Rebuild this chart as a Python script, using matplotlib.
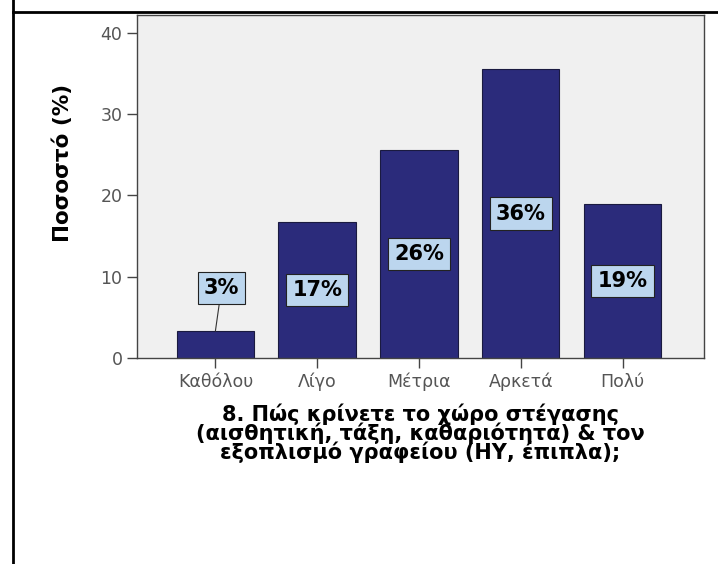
import matplotlib
matplotlib.use('Agg')
import matplotlib.pyplot as plt
from matplotlib.lines import Line2D

categories = ['Καθόλου', 'Λίγο', 'Μέτρια', 'Αρκετά', 'Πολύ']
percent = [3.3, 16.7, 25.6, 35.5, 18.9]
bar_labels = ['3%', '17%', '26%', '36%', '19%']
yticks = [0, 10, 20, 30, 40]

xlabel = ('8. Πώς κρίνετε το χώρο στέγασης\n'
          '(αισθητική, τάξη, καθαριότητα) & τον\n'
          'εξοπλισμό γραφείου (ΗΥ, έπιπλα);')

plt.rcParams['font.family'] = ['DejaVu Sans']

fig = plt.figure(figsize=(7.18, 5.64), dpi=100)
ax = fig.add_axes([0.1908, 0.3652, 0.7897, 0.6082])
ax.set_facecolor('#f0f0f0')

x = list(range(len(categories)))
ax.bar(x, percent, width=0.76, color='#2b2b7b', edgecolor='#1a1a40', linewidth=0.8)

box = dict(boxstyle='square,pad=0.3', facecolor='#bcd6ee', edgecolor='#222222', linewidth=0.8)
for i, (v, lab) in enumerate(zip(percent, bar_labels)):
    if v < 6:
        # small bar: label above with a leader line
        ax.annotate(lab, xy=(i, v), xytext=(i + 0.06, 8.6), ha='center', va='center',
                    fontsize=15, fontweight='bold', bbox=box,
                    arrowprops=dict(arrowstyle='-', color='#333333', lw=0.8, shrinkA=0, shrinkB=0))
    else:
        ax.text(i, v / 2, lab, ha='center', va='center', fontsize=15,
                fontweight='bold', bbox=box)

ax.set_xlim(-0.77, 4.80)
ax.set_ylim(0, 42.2)
ax.set_yticks(yticks)
ax.set_xticks(x)
ax.set_xticklabels(categories)
ax.tick_params(axis='both', direction='out', length=7, width=1, colors='#444444',
               labelsize=12.5, labelcolor='#555555')
for s in ax.spines.values():
    s.set_color('#444444')
    s.set_linewidth(1)

ax.set_ylabel('Ποσοστό (%)', fontsize=15.5, fontweight='bold', va='center')
ax.yaxis.set_label_coords(-0.1305, 0.5685)
ax.set_xlabel(xlabel, fontsize=15, fontweight='bold', linespacing=0.85, va='top')
ax.xaxis.set_label_coords(0.5, -0.132)

# table cell borders around the chart
fig.add_artist(Line2D([0.0181, 0.0181], [0, 1], transform=fig.transFigure, color='black', lw=2))
fig.add_artist(Line2D([0.0181, 1], [0.9787, 0.9787], transform=fig.transFigure, color='black', lw=2))

plt.savefig('out.png', dpi=100)
